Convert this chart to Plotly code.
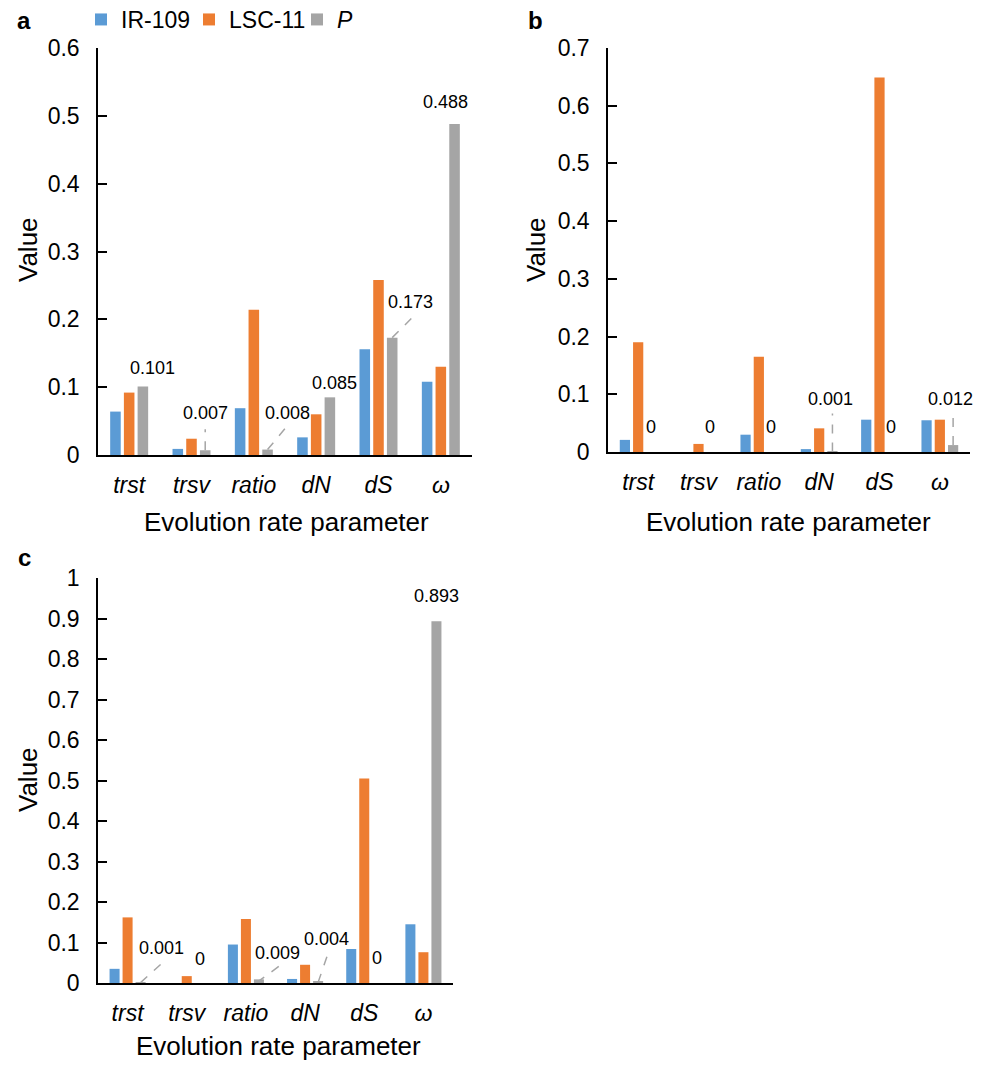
import plotly.graph_objects as go

W, H = 989, 1070

categories = ["trst", "trsv", "ratio", "dN", "dS", "ω"]
series_names = ["IR-109", "LSC-11", "<i>P</i>"]
colors = ["#5B9BD5", "#ED7D31", "#A5A5A5"]

# panel a
a_ir109 = [0.064, 0.009, 0.069, 0.026, 0.156, 0.108]
a_lsc11 = [0.092, 0.024, 0.214, 0.060, 0.258, 0.130]
a_p = [0.101, 0.007, 0.008, 0.085, 0.173, 0.488]
a_p_labels = ["0.101", "0.007", "0.008", "0.085", "0.173", "0.488"]

# panel b
b_ir109 = [0.021, 0.0, 0.030, 0.005, 0.056, 0.055]
b_lsc11 = [0.190, 0.014, 0.165, 0.041, 0.649, 0.056]
b_p = [0.0, 0.0, 0.0, 0.001, 0.0, 0.012]
b_p_labels = ["0", "0", "0", "0.001", "0", "0.012"]

# panel c
c_ir109 = [0.035, 0.0, 0.095, 0.010, 0.084, 0.145]
c_lsc11 = [0.162, 0.017, 0.158, 0.045, 0.505, 0.076]
c_p = [0.001, 0.0, 0.009, 0.004, 0.0, 0.893]
c_p_labels = ["0.001", "0", "0.009", "0.004", "0", "0.893"]

y_dtick = 0.1

# label placement (pixel offsets from top of the P bar): (xshift, yshift, leader line or None)
a_place = [(10, 18, None), (0, 37, (0, 0, 0, 21)), (20, 37, (0, 0, 20, 24)),
           (5, 14, None), (18, 36, (0, 0, 20, 20)), (-9, 22, None)]
b_place = [(0, 25, None), (-2, 25, None), (-1, 25, None),
           (-2, 52, (0, 0, 0, 38)), (-2, 25, None), (-3, 46, (0, 0, 0, 32))]
c_place = [(21, 35, (0, 0, 22, 20)), (0, 24, None), (19, 26, (-2, -3, 20, 13)),
           (8, 42, (0, -1, 10, 28)), (0, 25, None), (0, 25, None)]

font_family = "Liberation Sans, Arial, sans-serif"

def px_x(p):
    return p / W

def px_y(p):
    return 1 - p / H

panels = [
    dict(name="a", xd=(98, 472), yd=(48, 455), data=(a_ir109, a_lsc11, a_p), labels=a_p_labels,
         place=a_place, rng=0.6, ax="x", ay="y", title_val=(28, 250), title_x=(286, 522), letter=(24, 20)),
    dict(name="b", xd=(608, 970), yd=(48, 452), data=(b_ir109, b_lsc11, b_p), labels=b_p_labels,
         place=b_place, rng=0.7, ax="x2", ay="y2", title_val=(536, 250), title_x=(788, 522), letter=(535, 20)),
    dict(name="c", xd=(98, 453), yd=(578, 983), data=(c_ir109, c_lsc11, c_p), labels=c_p_labels,
         place=c_place, rng=1.0, ax="x3", ay="y3", title_val=(28, 780), title_x=(278, 1046), letter=(24, 557)),
]

fig = go.Figure()
xs = list(range(len(categories)))
tick_text = ["<i>%s</i>" % c for c in categories]

annotations = []
shapes = []
slot = (1 - 0.34) / 3  # offset of third bar in group

for pi, p in enumerate(panels):
    for si in range(3):
        fig.add_trace(go.Bar(
            x=xs, y=p["data"][si], name=series_names[si], marker_color=colors[si],
            marker_line_width=0, xaxis=p["ax"], yaxis=p["ay"],
            showlegend=(pi == 0), legendgroup=series_names[si], offsetgroup=str(si),
        ))
    suffix = "" if p["ax"] == "x" else p["ax"][1:]
    xa = dict(
        domain=[px_x(p["xd"][0]), px_x(p["xd"][1])], range=[-0.5, 5.5],
        tickvals=xs, ticktext=tick_text, ticks="", showline=True, linecolor="#000", linewidth=1.5,
        tickfont=dict(size=23, color="#000", family=font_family), ticklabelstandoff=9,
        anchor=p["ay"], showgrid=False, zeroline=False, fixedrange=True,
    )
    ya = dict(
        domain=[px_y(p["yd"][1]), px_y(p["yd"][0])], range=[0, p["rng"]], dtick=y_dtick, tick0=0,
        ticks="inside", ticklen=9, tickwidth=1.5, tickcolor="#000",
        showline=True, linecolor="#000", linewidth=1.5, showgrid=False, zeroline=False,
        tickfont=dict(size=23, color="#000", family=font_family), ticklabelstandoff=12,
        anchor=p["ax"], tickformat="~g", fixedrange=True,
    )
    fig.update_layout(**{"xaxis" + suffix: xa, "yaxis" + suffix: ya})

    # P value labels & leader lines
    pvals = p["data"][2]
    for i, (val, lab, pl) in enumerate(zip(pvals, p["labels"], p["place"])):
        xc = xs[i] + slot
        dx, dy, line = pl
        annotations.append(dict(
            x=xc, y=val, xref=p["ax"], yref=p["ay"], text=lab, showarrow=False,
            xshift=dx, yshift=dy, xanchor="center", yanchor="middle",
            font=dict(size=18, color="#000", family=font_family),
        ))
        if line is not None:
            shapes.append(dict(
                type="line", xref=p["ax"], yref=p["ay"], xsizemode="pixel", ysizemode="pixel",
                xanchor=xc, yanchor=val, x0=line[0], y0=line[1], x1=line[2], y1=line[3],
                line=dict(color="#A5A5A5", width=1.5, dash="dash"),
            ))

    # titles and panel letter
    annotations.append(dict(
        x=px_x(p["title_val"][0]), y=px_y(p["title_val"][1]), xref="paper", yref="paper",
        text="Value", textangle=-90, showarrow=False, xanchor="center", yanchor="middle",
        font=dict(size=26, color="#000", family=font_family),
    ))
    annotations.append(dict(
        x=px_x(p["title_x"][0]), y=px_y(p["title_x"][1]), xref="paper", yref="paper",
        text="Evolution rate parameter", showarrow=False, xanchor="center", yanchor="middle",
        font=dict(size=26, color="#000", family=font_family),
    ))
    annotations.append(dict(
        x=px_x(p["letter"][0]), y=px_y(p["letter"][1]), xref="paper", yref="paper",
        text="<b>%s</b>" % p["name"], showarrow=False, xanchor="center", yanchor="middle",
        font=dict(size=24, color="#000", family=font_family),
    ))

fig.update_layout(
    width=W, height=H, margin=dict(l=0, r=0, t=0, b=0, autoexpand=False),
    paper_bgcolor="white", plot_bgcolor="white",
    barmode="group", bargap=0.34, bargroupgap=0.23,
    font=dict(family=font_family, color="#000"),
    annotations=annotations, shapes=shapes,
    legend=dict(orientation="h", x=px_x(81), y=px_y(-2), xanchor="left", yanchor="top",
                font=dict(size=23, color="#000", family=font_family), itemwidth=30,
                entrywidth=63, entrywidthmode="pixels",
                bgcolor="rgba(0,0,0,0)", tracegroupgap=0, traceorder="normal"),
)

fig.write_html("out.html")
